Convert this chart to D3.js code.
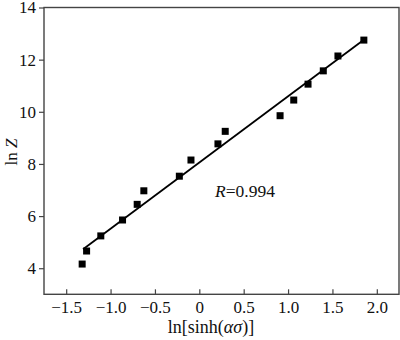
<!DOCTYPE html>
<html>
<head>
<meta charset="utf-8">
<script src="https://cdn.jsdelivr.net/npm/d3@7"></script>
<style>
  html, body { margin: 0; padding: 0; background: #fff; }
  svg { display: block; font-family: "Liberation Serif", "Times New Roman", serif; }
  svg text { font-family: "Liberation Serif", "Times New Roman", serif; }
</style>
</head>
<body>
<svg id="chart" width="400" height="340"></svg>
<script>
// Measured points: ln[sinh(ασ)] vs ln Z
const xValues = [-1.32, -1.27, -1.11, -0.865, -0.70, -0.625, -0.225, -0.094, 0.21, 0.292, 0.91, 1.064, 1.225, 1.397, 1.562, 1.854];
const yValues = [4.16, 4.66, 5.24, 5.85, 6.45, 6.97, 7.53, 8.15, 8.77, 9.25, 9.85, 10.45, 11.06, 11.57, 12.14, 12.75];

// Linear fit drawn between these end points
const fitX = [-1.31, 1.854];
const fitY = [4.73, 12.76];

const xTicks = [-1.5, -1.0, -0.5, 0, 0.5, 1.0, 1.5, 2.0];
const yTicks = [4, 6, 8, 10, 12, 14];
const fitLabel = "0.994";

const svg = d3.select("#chart");
const plotLeft = 44, plotRight = 399, plotTop = 7.5, plotBottom = 294.3;
const fs = 17;

const x = d3.scaleLinear().domain([-1.75, 2.25]).range([plotLeft, plotRight]);
const y = d3.scaleLinear().domain([3, 14]).range([plotBottom, plotTop]);

const fmtX = d => d === 0 ? "0" : d3.format(".1f")(d).replace("-", "\u2212");

// frame
svg.append("rect")
  .attr("x", plotLeft).attr("y", plotTop)
  .attr("width", plotRight - plotLeft).attr("height", plotBottom - plotTop)
  .attr("fill", "none").attr("stroke", "#444").attr("stroke-width", 1.4);

// x axis: ticks point inward
const gx = svg.append("g")
  .attr("transform", `translate(0,${plotBottom})`)
  .call(d3.axisBottom(x).tickValues(xTicks).tickSize(-5).tickPadding(7).tickFormat(fmtX));
gx.attr("font-family", null).attr("font-size", fs);
gx.select(".domain").remove();
gx.selectAll("line").attr("stroke", "#444").attr("stroke-width", 1.2);
gx.selectAll("text").attr("fill", "#111");

// y axis: ticks point outward
const gy = svg.append("g")
  .attr("transform", `translate(${plotLeft},0)`)
  .call(d3.axisLeft(y).tickValues(yTicks).tickSize(5).tickPadding(3).tickFormat(d3.format("d")));
gy.attr("font-family", null).attr("font-size", fs);
gy.select(".domain").remove();
gy.selectAll("line").attr("stroke", "#444").attr("stroke-width", 1.2);
gy.selectAll("text").attr("fill", "#111");

// fit line
svg.append("line")
  .attr("x1", x(fitX[0])).attr("y1", y(fitY[0]))
  .attr("x2", x(fitX[1])).attr("y2", y(fitY[1]))
  .attr("stroke", "#000").attr("stroke-width", 1.8);

// square markers
const s = 7;
svg.append("g").selectAll("rect")
  .data(xValues.map((v, i) => [v, yValues[i]]))
  .join("rect")
  .attr("x", d => x(d[0]) - s / 2)
  .attr("y", d => y(d[1]) - s / 2)
  .attr("width", s).attr("height", s)
  .attr("fill", "#000");

// R label
const rt = svg.append("text")
  .attr("x", 215).attr("y", 197)
  .attr("font-size", 17.5).attr("fill", "#111");
rt.append("tspan").attr("font-style", "italic").text("R");
rt.append("tspan").text("=" + fitLabel);

// x axis title
const xt = svg.append("text")
  .attr("x", 211).attr("y", 333)
  .attr("text-anchor", "middle")
  .attr("font-size", 18).attr("fill", "#111");
xt.append("tspan").text("ln[sinh(");
xt.append("tspan").attr("font-style", "italic").text("ασ");
xt.append("tspan").text(")]");

// y axis title
const yt = svg.append("text")
  .attr("transform", "translate(17,152) rotate(-90)")
  .attr("text-anchor", "middle")
  .attr("font-size", 17).attr("fill", "#111");
yt.append("tspan").text("ln ");
yt.append("tspan").attr("font-style", "italic").text("Z");
</script>
</body>
</html>
